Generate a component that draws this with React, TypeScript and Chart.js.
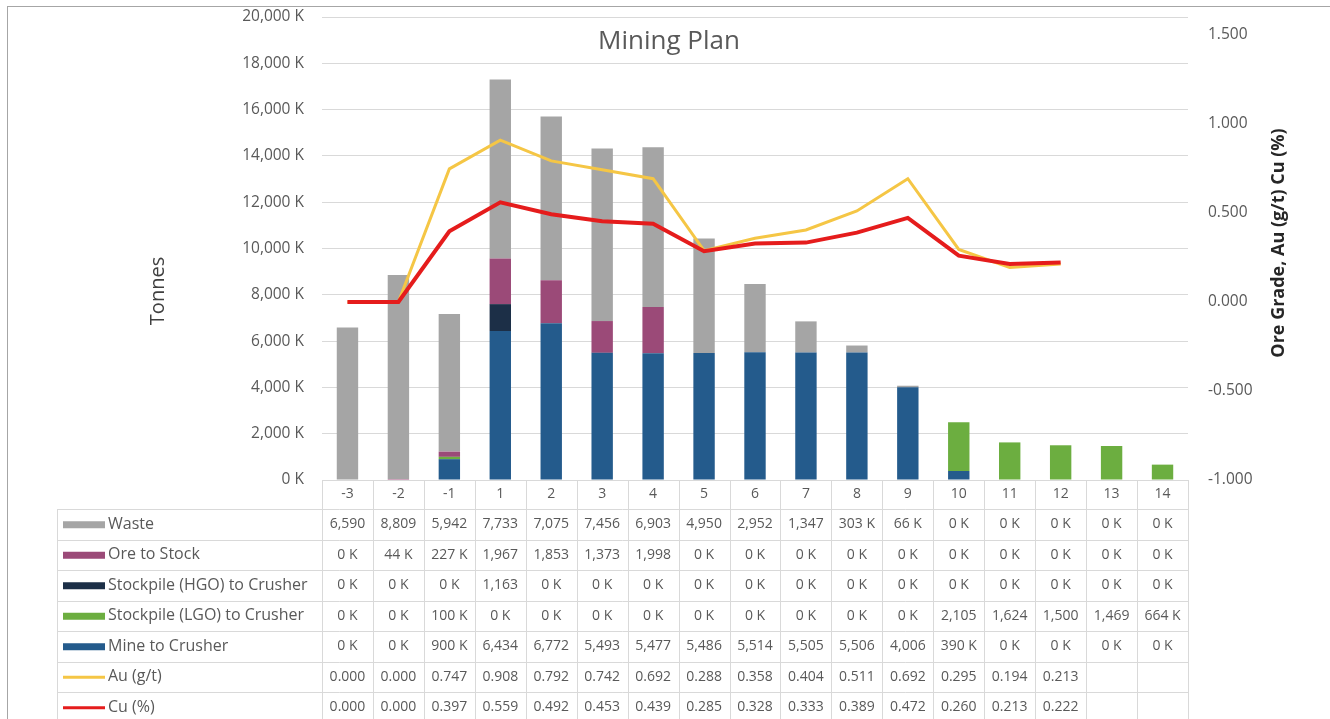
import { useEffect, useRef } from 'react';
import { Chart, registerables } from 'chart.js';

Chart.register(...registerables);

// Mining schedule by year (tonnes in thousands, grades in g/t and %)
const years = ['-3', '-2', '-1', '1', '2', '3', '4', '5', '6', '7', '8', '9', '10', '11', '12', '13', '14'];
const waste = [6590, 8809, 5942, 7733, 7075, 7456, 6903, 4950, 2952, 1347, 303, 66, 0, 0, 0, 0, 0];
const oreToStock = [0, 44, 227, 1967, 1853, 1373, 1998, 0, 0, 0, 0, 0, 0, 0, 0, 0, 0];
const hgoToCrusher = [0, 0, 0, 1163, 0, 0, 0, 0, 0, 0, 0, 0, 0, 0, 0, 0, 0];
const lgoToCrusher = [0, 0, 100, 0, 0, 0, 0, 0, 0, 0, 0, 0, 2105, 1624, 1500, 1469, 664];
const mineToCrusher = [0, 0, 900, 6434, 6772, 5493, 5477, 5486, 5514, 5505, 5506, 4006, 390, 0, 0, 0, 0];
const auGrade = [0, 0, 0.747, 0.908, 0.792, 0.742, 0.692, 0.288, 0.358, 0.404, 0.511, 0.692, 0.295, 0.194, 0.213, null, null];
const cuGrade = [0, 0, 0.397, 0.559, 0.492, 0.453, 0.439, 0.285, 0.328, 0.333, 0.389, 0.472, 0.26, 0.213, 0.222, null, null];

const tonneTicks = [0, 2000, 4000, 6000, 8000, 10000, 12000, 14000, 16000, 18000, 20000];
const gradeTicks = [-1, -0.5, 0, 0.5, 1, 1.5];

const W = 1330;
const H = 719;
const FONT = '"Open Sans", "Liberation Sans", sans-serif';
const TEXT = '#595959';
const LINE = '#d9d9d9';

const C_WASTE = '#a5a5a5';
const C_ORE = '#9b4a78';
const C_HGO = '#1c2f47';
const C_LGO = '#6cae40';
const C_MINE = '#245b8c';
const C_AU = '#f5c645';
const C_CU = '#e51c1c';

const fmtTonnes = (v: number) => (v >= 1000 ? v.toLocaleString('en-US') : `${v} K`);
const fmtGrade = (v: number | null) => (v == null ? '' : v.toFixed(3));

type Row = { label: string; kind: 'bar' | 'line'; color: string; cells: string[] };
const tableRows: Row[] = [
  { label: 'Waste', kind: 'bar', color: C_WASTE, cells: waste.map(fmtTonnes) },
  { label: 'Ore to Stock', kind: 'bar', color: C_ORE, cells: oreToStock.map(fmtTonnes) },
  { label: 'Stockpile (HGO) to Crusher', kind: 'bar', color: C_HGO, cells: hgoToCrusher.map(fmtTonnes) },
  { label: 'Stockpile (LGO) to Crusher', kind: 'bar', color: C_LGO, cells: lgoToCrusher.map(fmtTonnes) },
  { label: 'Mine to Crusher', kind: 'bar', color: C_MINE, cells: mineToCrusher.map(fmtTonnes) },
  { label: 'Au (g/t)', kind: 'line', color: C_AU, cells: auGrade.map(fmtGrade) },
  { label: 'Cu (%)', kind: 'line', color: C_CU, cells: cuGrade.map(fmtGrade) },
];

const frame = {
  id: 'frame',
  beforeDraw(chart: any) {
    const { ctx } = chart;
    ctx.save();
    ctx.fillStyle = '#ffffff';
    ctx.fillRect(0, 0, W, H);
    ctx.strokeStyle = '#a6a6a6';
    ctx.lineWidth = 1;
    ctx.strokeRect(7.5, 6.5, W + 20, H + 20);
    ctx.restore();
  },
};

const dataTable = {
  id: 'dataTable',
  afterDraw(chart: any) {
    const { ctx, chartArea } = chart;
    const x = chart.scales.x;
    const left = chartArea.left;
    const right = chartArea.right;
    const colW = (right - left) / years.length;
    const headTop = chartArea.bottom;
    const bodyTop = headTop + 29;
    const rowH = 30.5;
    const legendLeft = 57;
    const bottom = bodyTop + rowH * tableRows.length;

    ctx.save();
    ctx.strokeStyle = LINE;
    ctx.lineWidth = 1;

    // horizontal rules
    for (let r = 0; r <= tableRows.length; r++) {
      const y = Math.round(bodyTop + r * rowH) + 0.5;
      ctx.beginPath();
      ctx.moveTo(legendLeft, y);
      ctx.lineTo(right, y);
      ctx.stroke();
    }
    // vertical rules
    for (let i = 0; i <= years.length; i++) {
      const xx = Math.round(left + i * colW) + 0.5;
      ctx.beginPath();
      ctx.moveTo(xx, headTop);
      ctx.lineTo(xx, bottom);
      ctx.stroke();
    }
    ctx.beginPath();
    ctx.moveTo(legendLeft + 0.5, bodyTop);
    ctx.lineTo(legendLeft + 0.5, bottom);
    ctx.stroke();

    // header: categories
    ctx.fillStyle = TEXT;
    ctx.textAlign = 'center';
    ctx.textBaseline = 'middle';
    ctx.font = `14px ${FONT}`;
    years.forEach((yr, i) => {
      ctx.fillText(yr, x.getPixelForValue(i), headTop + 14.5);
    });

    // rows: legend key, label and one value per year
    tableRows.forEach((row, r) => {
      const cy = bodyTop + r * rowH + rowH / 2;
      ctx.fillStyle = row.color;
      if (row.kind === 'bar') ctx.fillRect(63, cy - 3, 42, 7);
      else ctx.fillRect(63, cy - 1, 42, 3);
      ctx.fillStyle = TEXT;
      ctx.textAlign = 'left';
      ctx.font = `16px ${FONT}`;
      ctx.fillText(row.label, 108, cy);
      ctx.textAlign = 'center';
      ctx.font = `14px ${FONT}`;
      row.cells.forEach((c, i) => {
        if (c) ctx.fillText(c, x.getPixelForValue(i), cy);
      });
    });

    // titles
    ctx.fillStyle = TEXT;
    ctx.textAlign = 'center';
    ctx.font = `26px ${FONT}`;
    ctx.fillText('Mining Plan', 669, 42);

    ctx.save();
    ctx.translate(158, 291);
    ctx.rotate(-Math.PI / 2);
    ctx.fillStyle = '#404040';
    ctx.font = `20px ${FONT}`;
    ctx.fillText('Tonnes', 0, 0);
    ctx.restore();

    ctx.save();
    ctx.translate(1279, 243);
    ctx.rotate(-Math.PI / 2);
    ctx.fillStyle = '#262626';
    ctx.font = `bold 18px ${FONT}`;
    ctx.fillText('Ore Grade, Au (g/t) Cu (%)', 0, 0);
    ctx.restore();

    ctx.restore();
  },
};

const noScalePadding = (s: any) => {
  s.paddingTop = 0;
  s.paddingBottom = 0;
};

export default function App() {
  const ref = useRef<HTMLCanvasElement>(null);

  useEffect(() => {
    document.body.style.margin = '0';
    const barBase = { type: 'bar' as const, yAxisID: 'y', stack: 'tonnes', order: 3, categoryPercentage: 1, barPercentage: 0.42 };
    const chart = new Chart(ref.current as HTMLCanvasElement, {
      data: {
        labels: years,
        datasets: [
          { ...barBase, label: 'Mine to Crusher', data: mineToCrusher, backgroundColor: C_MINE },
          { ...barBase, label: 'Stockpile (LGO) to Crusher', data: lgoToCrusher, backgroundColor: C_LGO },
          { ...barBase, label: 'Stockpile (HGO) to Crusher', data: hgoToCrusher, backgroundColor: C_HGO },
          { ...barBase, label: 'Ore to Stock', data: oreToStock, backgroundColor: C_ORE },
          { ...barBase, label: 'Waste', data: waste, backgroundColor: C_WASTE },
          {
            type: 'line', label: 'Au (g/t)', data: auGrade, yAxisID: 'y1', order: 2,
            borderColor: C_AU, borderWidth: 3, pointRadius: 0, tension: 0, spanGaps: false,
          },
          {
            type: 'line', label: 'Cu (%)', data: cuGrade, yAxisID: 'y1', order: 1,
            borderColor: C_CU, borderWidth: 4, pointRadius: 0, tension: 0, spanGaps: false,
          },
        ] as any,
      },
      options: {
        responsive: false,
        animation: false,
        devicePixelRatio: 1,
        layout: { padding: { top: 17, bottom: 239, left: 0, right: 0 } },
        plugins: { legend: { display: false }, title: { display: false }, tooltip: { enabled: false } },
        scales: {
          x: { type: 'category', display: false, stacked: true },
          y: {
            type: 'linear',
            position: 'left',
            stacked: true,
            min: tonneTicks[0],
            max: tonneTicks[tonneTicks.length - 1],
            afterBuildTicks: (s: any) => { s.ticks = tonneTicks.map((v) => ({ value: v })); },
            afterFit: (s: any) => { s.width = 322; noScalePadding(s); },
            grid: { color: LINE, lineWidth: 1, drawTicks: false },
            border: { display: false },
            ticks: {
              padding: 18,
              color: TEXT,
              font: { family: FONT, size: 15.5 },
              callback: (v: any) => `${Number(v).toLocaleString('en-US')} K`,
            },
          },
          y1: {
            type: 'linear',
            position: 'right',
            min: -1,
            max: 1.6,
            afterBuildTicks: (s: any) => { s.ticks = gradeTicks.map((v) => ({ value: v })); },
            afterFit: (s: any) => { s.width = W - 1188; noScalePadding(s); },
            grid: { drawOnChartArea: false, drawTicks: false },
            border: { display: false },
            ticks: {
              padding: 20,
              color: TEXT,
              font: { family: FONT, size: 15.5 },
              callback: (v: any) => Number(v).toFixed(3),
            },
          },
        },
      } as any,
      plugins: [frame, dataTable],
    });
    return () => chart.destroy();
  }, []);

  return <canvas ref={ref} width={W} height={H} style={{ display: 'block', width: W, height: H }} />;
}
